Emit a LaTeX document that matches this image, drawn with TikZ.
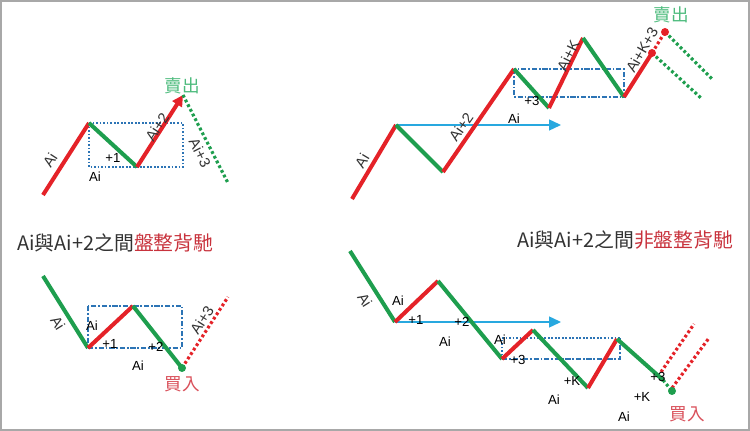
\documentclass[tikz,border=0pt]{standalone}
\usepackage{fontspec}
\setmainfont{Liberation Sans}
\newfontfamily\cjkfont{Noto Sans CJK TC}
\usetikzlibrary{arrows.meta}
\definecolor{upred}{HTML}{E42228}
\definecolor{downgreen}{HTML}{1E9E4E}
\definecolor{rangeblue}{HTML}{2C74B5}
\definecolor{movecyan}{HTML}{28A8DF}
\definecolor{sellgreen}{HTML}{4DBB7D}
\definecolor{buyred}{HTML}{D9505A}
\definecolor{titlered}{HTML}{C8323C}
\definecolor{titlegray}{HTML}{333333}
\definecolor{framegray}{HTML}{A8A8A8}

\begin{document}
\begin{tikzpicture}[
  x=0.02cm, y=-0.02cm,
  upleg/.style={draw=upred, line width=2.3pt},
  downleg/.style={draw=downgreen, line width=2.3pt},
  updots/.style={draw=upred, line width=1.8pt, dash pattern=on 1.6pt off 1.4pt},
  downdots/.style={draw=downgreen, line width=1.8pt, dash pattern=on 1.6pt off 1.4pt},
  rangedash/.style={draw=rangeblue, line width=1.1pt, dash pattern=on 3pt off 1pt on 1pt off 1pt},
  rangedots/.style={draw=rangeblue, line width=1.1pt, dash pattern=on 1pt off 1pt},
  movearrow/.style={draw=movecyan, line width=0.8pt, -{Triangle[length=2.4mm,width=2.2mm]}},
  lab/.style={font=\fontsize{7.5}{8}\selectfont, inner sep=0pt},
  seg/.style={font=\fontsize{8.5}{9}\selectfont, text=titlegray, inner sep=0pt, rotate=#1},
  heading/.style={font=\cjkfont\fontsize{11.3}{12}\selectfont, text=titlegray, anchor=west, inner sep=0pt},
  signal/.style={font=\cjkfont\fontsize{10}{11}\selectfont, text=#1, inner sep=0pt},
  spot/.style={circle, fill=#1, inner sep=0pt, minimum size=1.6mm}
]
\useasboundingbox (0,0) rectangle (750,431);
\draw[framegray, line width=0.9pt] (1,1) rectangle (749,430);

% top left: range divergence, sell
\coordinate (a0) at (43,195);
\coordinate (a1) at (89,123);
\coordinate (a2) at (137,167);
\coordinate (a3) at (183,95);
\coordinate (a4) at (228,183);
\draw[rangedots] (a1) rectangle (a3 |- a2);
\draw[upleg] (a0) -- (a1);
\draw[downleg] (a1) -- (a2);
\draw[upleg, -{Triangle[length=2.2mm,width=2.2mm]}] (a2) -- (a3);
\draw[downdots] (a3) -- (a4);
\node[seg=57] (aAi) at (50,160) {Ai};
\node[lab] (aOne) at (113,158) {+1};
\node[lab] (aBase) at (95,177) {Ai};
\node[seg=57] (aTwo) at (157,127) {Ai+2};
\node[seg=-63] (aThree) at (200,153) {Ai+3};
\node[signal=sellgreen] (aSell) at (182,86) {賣出};

% top right: trend divergence, sell
\coordinate (b0) at (352,199);
\coordinate (b1) at (396,125);
\coordinate (b2) at (443,172);
\coordinate (b3) at (514,69);
\coordinate (b4) at (549,108);
\coordinate (b5) at (583,38);
\coordinate (b6) at (624,97);
\coordinate (b7) at (652,53);
\coordinate (b8) at (665,32);
\coordinate (b9) at (713,80);
\coordinate (b10) at (701,98);
\coordinate (b11) at (561,125);
\draw[rangedash] (b3) rectangle (b6);
\draw[movearrow] (b1) -- (b11);
\draw[upleg] (b0) -- (b1);
\draw[downleg] (b1) -- (b2);
\draw[upleg] (b2) -- (b3);
\draw[downleg] (b3) -- (b4);
\draw[upleg] (b4) -- (b5);
\draw[downleg] (b5) -- (b6);
\draw[upleg] (b6) -- (b7);
\draw[updots] (b7) -- (b8);
\draw[downdots] (b8) -- (b9);
\draw[downdots] (b7) -- (b10);
\node[spot=upred] (bLow) at (b7) {};
\node[spot=upred] (bHigh) at (b8) {};
\node[seg=59] (bAi) at (362,161) {Ai};
\node[seg=55] (bTwo) at (461,127) {Ai+2};
\node[lab] (bBase) at (514,119) {Ai};
\node[lab] (bThree) at (532,101) {+3};
\node[seg=64] (bK) at (568,56) {Ai+K};
\node[seg=60] (bKThree) at (642,50) {Ai+K+3};
\node[signal=sellgreen] (bSell) at (671,15) {賣出};

% bottom left: range divergence, buy
\node[heading] (cTitle) at (17,243) {Ai與Ai+2之間\textcolor{titlered}{盤整背馳}};
\coordinate (c0) at (43,276);
\coordinate (c1) at (88,348);
\coordinate (c2) at (133,306);
\coordinate (c3) at (182,368);
\coordinate (c4) at (228,297);
\draw[rangedash] (c1 |- c2) rectangle (c3 |- c1);
\draw[downleg] (c0) -- (c1);
\draw[upleg] (c1) -- (c2);
\draw[downleg] (c2) -- (c3);
\draw[updots] (c3) -- (c4);
\node[spot=downgreen] (cBuyDot) at (c3) {};
\node[seg=-58] (cAi) at (58,323) {Ai};
\node[lab] (cIn) at (92,326) {Ai};
\node[lab] (cOne) at (110,344) {+1};
\node[lab] (cTwo) at (156,347) {+2};
\node[lab] (cBase) at (138,366) {Ai};
\node[seg=57] (cThree) at (202,320) {Ai+3};
\node[signal=buyred] (cBuy) at (182,384) {買入};

% bottom right: trend divergence, buy
\node[heading] (dTitle) at (517,240) {Ai與Ai+2之間\textcolor{titlered}{非盤整背馳}};
\coordinate (d0) at (350,251);
\coordinate (d1) at (395,322);
\coordinate (d2) at (438,281);
\coordinate (d3) at (502,359);
\coordinate (d4) at (533,330);
\coordinate (d5) at (588,388);
\coordinate (d6) at (617,339);
\coordinate (d7) at (663,380);
\coordinate (d8) at (672,391);
\coordinate (d9) at (661,372);
\coordinate (d10) at (694,324);
\coordinate (d11) at (672,388);
\coordinate (d12) at (709,338);
\coordinate (d13) at (561,322);
\coordinate (r1) at (502,338);
\coordinate (r2) at (620,338);
\coordinate (r3) at (620,359);
\draw[rangedots] (d3) -- (r1) -- (r2);
\draw[rangedash] (d3) -- (r3) -- (r2);
\draw[movearrow] (d1) -- (d13);
\draw[downleg] (d0) -- (d1);
\draw[upleg] (d1) -- (d2);
\draw[downleg] (d2) -- (d3);
\draw[upleg] (d3) -- (d4);
\draw[downleg] (d4) -- (d5);
\draw[upleg] (d5) -- (d6);
\draw[downleg] (d6) -- (d7);
\draw[downdots] (d7) -- (d8);
\draw[updots] (d9) -- (d10);
\draw[updots] (d11) -- (d12);
\node[spot=downgreen] (dBuyDot) at (d8) {};
\node[seg=-58] (dAi) at (365,300) {Ai};
\node[lab] (dIn) at (398,301) {Ai};
\node[lab] (dOne) at (416,320) {+1};
\node[lab] (dTwo) at (462,322) {+2};
\node[lab] (dBase) at (445,342) {Ai};
\node[lab] (dIn2) at (500,340) {Ai};
\node[lab] (dThree) at (518,360) {+3};
\node[lab] (dK) at (572,381) {+K};
\node[lab] (dBase2) at (554,400) {Ai};
\node[lab] (dThree2) at (658,377) {+3};
\node[lab] (dK2) at (642,397) {+K};
\node[lab] (dBase3) at (624,417) {Ai};
\node[signal=buyred] (dBuy) at (687,414) {買入};
\end{tikzpicture}
\end{document}
